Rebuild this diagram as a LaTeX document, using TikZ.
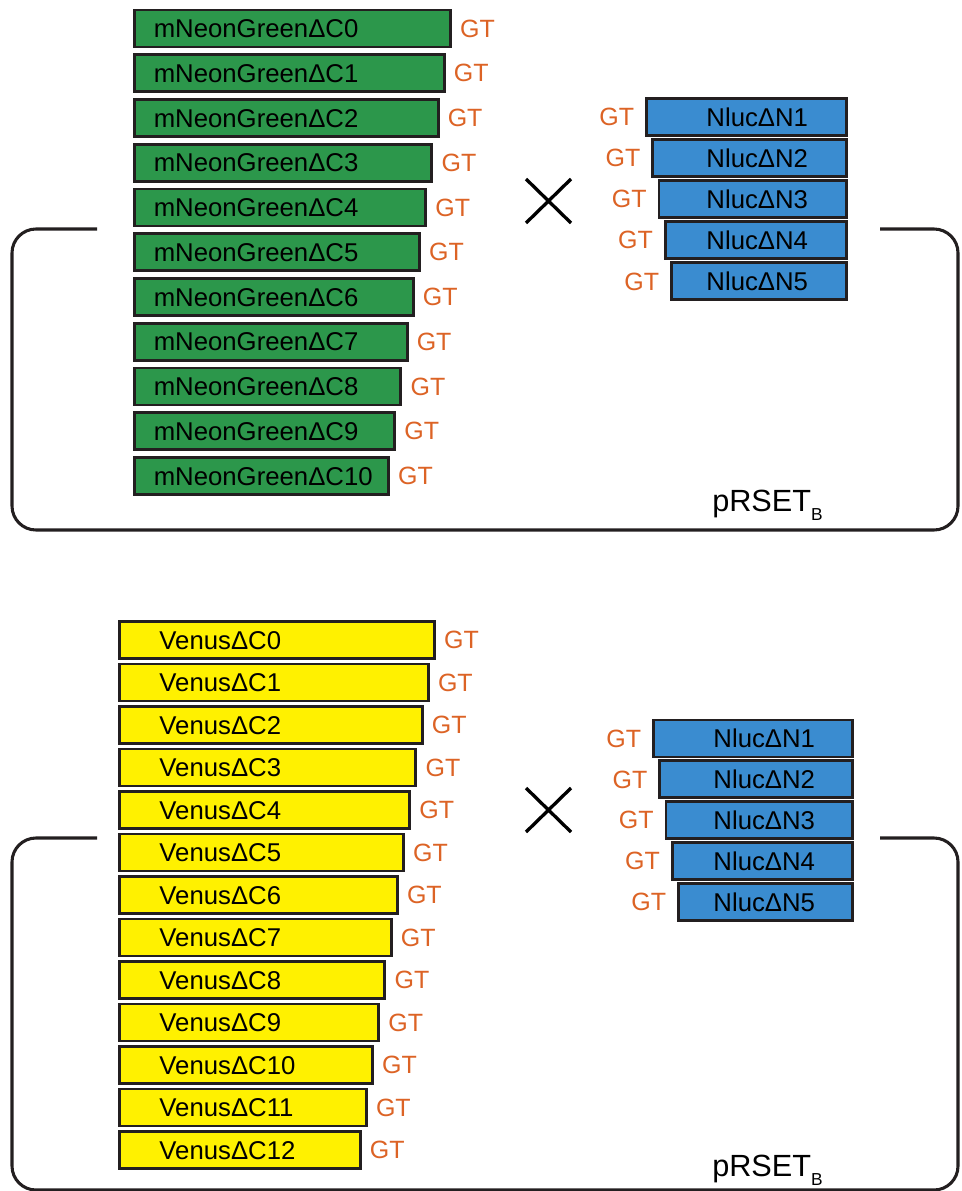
\documentclass[tikz,border=0pt]{standalone}
\usepackage{fontspec}
\setmainfont{Liberation Sans}
\definecolor{outline}{HTML}{231F20}
\definecolor{neon}{HTML}{2C974B}
\definecolor{nluc}{HTML}{3A8CD0}
\definecolor{venus}{HTML}{FFF100}
\definecolor{gt}{HTML}{DC6325}
\tikzset{
  bar/.style={draw=outline, line width=2.2pt, anchor=west, align=left,
    minimum height=27.75pt, inner ysep=0pt, text height=13.6pt, text depth=0pt,
    font=\fontsize{19.3}{20}\selectfont},
  neonbar/.style={bar, fill=neon, inner xsep=14.5pt},
  venusbar/.style={bar, fill=venus, inner xsep=30pt},
  nlucbar/.style={bar, fill=nluc},
  gtlabel/.style={text=gt, inner sep=0pt, font=\fontsize{18.75}{20}\selectfont},
  bracket/.style={draw=outline, line width=2.3pt, rounded corners=18pt},
  cross/.style={draw=black, line width=2.5pt},
  vector/.style={inner sep=0pt, font=\fontsize{23}{25}\selectfont}
}
\newcommand{\vecname}{pRSET\raisebox{-7pt}{\fontsize{13}{14}\selectfont B}}
\begin{document}
\begin{tikzpicture}[x=0.75pt, y=-0.75pt]
\useasboundingbox (0,0) rectangle (961,1191);
\clip (0,0) rectangle (961,1191);

% ---- upper panel: mNeonGreen truncations x Nluc truncations ----
\foreach \i in {0,...,10}{
  \pgfmathsetmacro\yc{28.5+44.75*\i}
  \pgfmathsetmacro\w{316-6.2*\i}
  \pgfmathsetlengthmacro\tw{(\w-38.7)*0.75}
  \node[neonbar, text width=\tw] (g\i) at (133,\yc) {mNeonGreenΔC\i};
  \node[gtlabel, anchor=west] (gg\i) at ([xshift=6pt]g\i.east) {GT};
}
% Nluc labels share one left edge while the boxes step inwards
\foreach \i in {1,...,5}{
  \pgfmathsetmacro\yc{117+41.1*(\i-1)}
  \pgfmathsetmacro\xl{645+6.25*(\i-1)}
  \pgfmathsetlengthmacro\off{(705-\xl)*0.75}
  \pgfmathsetlengthmacro\tw{(845-\xl-2*(705-\xl))*0.75}
  \node[nlucbar, inner xsep=\off, text width=\tw] (n\i) at (\xl,\yc) {NlucΔN\i};
  \node[gtlabel, anchor=east] (ng\i) at ([xshift=-8pt]n\i.west) {GT};
}
\coordinate (xa1) at (526,179); \coordinate (xb1) at (571,223);
\coordinate (xc1) at (526,223); \coordinate (xd1) at (571,179);
\draw[cross] (xa1) -- (xb1) (xc1) -- (xd1);

\draw[bracket] (97,229) -- (12,229) -- (12,530) -- (958,530) -- (958,229) -- (880,229);
\node[vector, anchor=base west] (v1) at (712,511) {\vecname};

% ---- lower panel: Venus truncations x Nluc truncations ----
\foreach \i in {0,...,12}{
  \pgfmathsetmacro\yc{640+42.5*\i}
  \pgfmathsetmacro\w{315-6.2*\i}
  \pgfmathsetlengthmacro\tw{(\w-80)*0.75}
  \node[venusbar, text width=\tw] (y\i) at (118,\yc) {VenusΔC\i};
  \node[gtlabel, anchor=west] (yg\i) at ([xshift=6pt]y\i.east) {GT};
}
\foreach \i in {1,...,5}{
  \pgfmathsetmacro\yc{738.5+40.9*(\i-1)}
  \pgfmathsetmacro\xl{652+6.25*(\i-1)}
  \pgfmathsetlengthmacro\off{(712-\xl)*0.75}
  \pgfmathsetlengthmacro\tw{(851-\xl-2*(712-\xl))*0.75}
  \node[nlucbar, inner xsep=\off, text width=\tw] (m\i) at (\xl,\yc) {NlucΔN\i};
  \node[gtlabel, anchor=east] (mg\i) at ([xshift=-8pt]m\i.west) {GT};
}
\coordinate (xa2) at (526,788); \coordinate (xb2) at (571,832);
\coordinate (xc2) at (526,832); \coordinate (xd2) at (571,788);
\draw[cross] (xa2) -- (xb2) (xc2) -- (xd2);

\draw[bracket] (97,838) -- (12,838) -- (12,1190) -- (958,1190) -- (958,838) -- (880,838);
\node[vector, anchor=base west] (v2) at (712,1176) {\vecname};
\end{tikzpicture}
\end{document}
